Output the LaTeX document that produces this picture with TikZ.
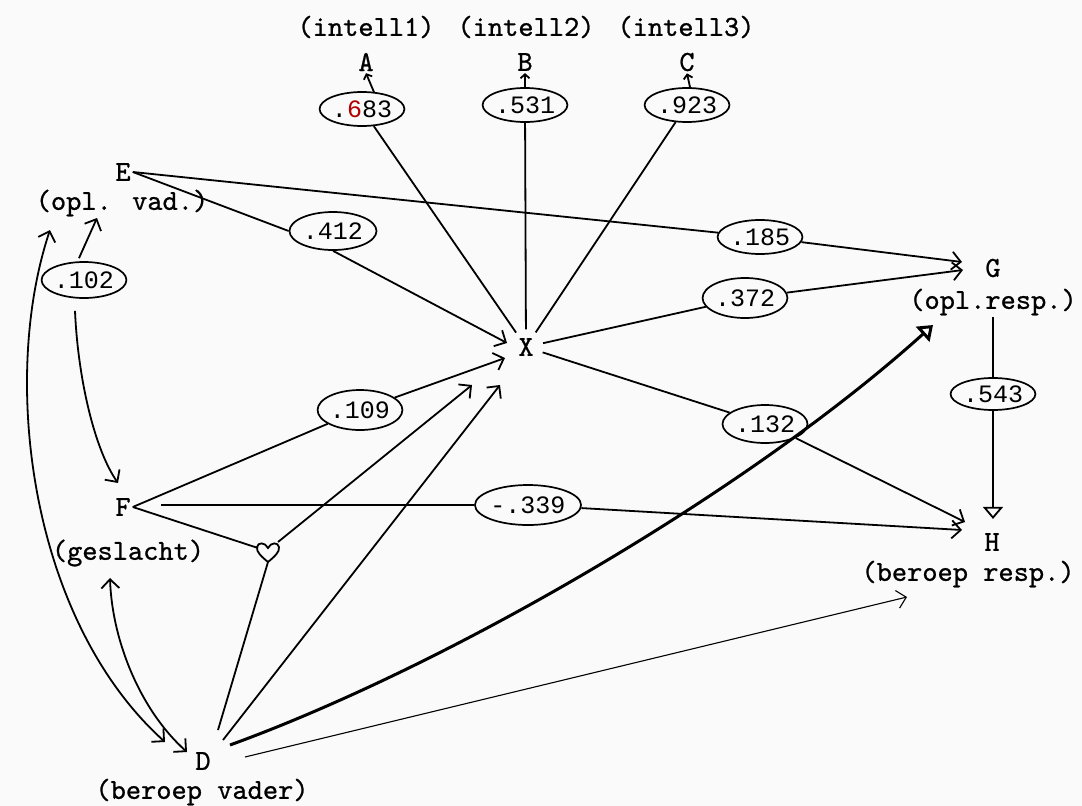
\documentclass[tikz,border=0pt]{standalone}
\usepackage{fontspec}
\newfontfamily\ovalfont{Liberation Mono}
\newfontfamily\typew{lmmono10-regular.otf}[FakeBold=0.8]
\usetikzlibrary{shapes.geometric,arrows.meta,calc}
\begin{document}
\begin{tikzpicture}[x=1pt,y=-1pt,
 lab/.style={font=\fontsize{29}{32}\selectfont\typew, inner sep=2pt},
 oval/.style={ellipse, draw, line width=1.7pt, inner sep=0pt, minimum width=82pt, minimum height=34pt, font=\fontsize{25}{28}\selectfont\ovalfont},
 conn/.style={line width=1.8pt},
 barb/.style={-{Straight Barb[length=9pt,width=18pt]}},
 sbarb/.style={-{Straight Barb[length=4pt,width=9pt]}},
 dbarb/.style={{Straight Barb[length=9pt,width=18pt]}-{Straight Barb[length=9pt,width=18pt]}},
 tri/.style={-{Triangle[open,length=12pt,width=20pt]}},
]
\fill[black!2] (0,0) rectangle (1082,806);
\useasboundingbox (0,0) rectangle (1082,806);

% labels
\node[lab] (iA) at (366,27) {(intell1)};
\node[lab] (iB) at (526,27) {(intell2)};
\node[lab] (iC) at (686,27) {(intell3)};
\node[lab] (A) at (366,62) {A};
\node[lab] (B) at (525,62) {B};
\node[lab] (C) at (687,62) {C};
\node[lab] (E) at (123,172) {E};
\node[lab] (lE) at (122,203) {(opl. vad.)};
\node[lab] (G) at (993,268) {G};
\node[lab] (lG) at (993,302) {(opl.resp.)};
\node[lab, circle, inner sep=4pt] (X) at (526,347) {X};
\node[lab] (F) at (123,507) {F};
\node[lab] (lF) at (128,553) {(geslacht)};
\node[lab] (H) at (992,542) {H};
\node[lab] (lH) at (968,574) {(beroep resp.)};
\node[lab] (D) at (203,761) {D};
\node[lab, inner sep=0pt] (lD) at (202,792) {(beroep vader)};
\coordinate (hj) at (268,552);

% ovals
\node[oval, minimum width=74pt] (o683) at (362,109) {.{\color{red!70!black}6}83};
\node[oval, minimum width=84pt] (o531) at (525,105) {.531};
\node[oval, minimum width=80pt] (o923) at (687,105) {.923};
\node[oval, minimum width=87pt, minimum height=38pt] (o412) at (333,231) {.412};
\node[oval, minimum width=78pt, minimum height=36pt] (o102) at (84,280) {.102};
\node[oval, minimum width=82pt] (o185) at (760,237) {.185};
\node[oval, minimum width=78pt, minimum height=40pt] (o372) at (745,298) {.372};
\node[oval, minimum width=78pt, minimum height=32pt] (o543) at (993,394) {.543};
\node[oval, minimum width=76pt, minimum height=40pt] (o109) at (360,410) {.109};
\node[oval, minimum width=85pt, minimum height=38pt] (o132) at (765,424) {.132};
\node[oval, minimum width=90pt, minimum height=40pt] (o339) at (528,505) {-.339};

% X to intelligence indicators
\draw[conn] (X) -- (o683);
\draw[conn,sbarb] ($(o683.north)+(12,1)$) -- (A.south);
\draw[conn] (X) -- (o531);
\draw[conn,sbarb] (o531.north) -- (B.south);
\draw[conn] (X) -- (o923);
\draw[conn,sbarb] ($(o923.north)+(3,0)$) -- (C.south);

% E paths
\draw[conn] (E.east) -- (o412.west);
\draw[conn,barb] (o412.south) -- ($(X)+(-19,-4)$);
\draw[conn] (E.east) -- (o185);
\draw[conn,barb] (o185) -- ($(G)+(-31,-6)$);

% X to G and H
\draw[conn] (X) -- (o372);
\draw[conn,barb] (o372) -- ($(G)+(-30,2)$);
\draw[conn] (X) -- (o132);
\draw[conn,barb] (o132.south east) -- ($(H)+(-27,-20)$);

% G to H
\draw[conn] (lG.south) -- (o543.north);
\draw[conn,tri] (o543.south) -- ($(H.north)+(1,-12)$);

% F paths
\draw[conn] (F.east) -- (o109);
\draw[conn,barb] (o109) -- ($(X)+(-21,11)$);
\draw[conn] ($(F.east)+(28,-2)$) -- (o339);
\draw[conn,barb] (o339) -- ($(H)+(-30,-12)$);
\draw[conn] (F.east) -- ($(hj)+(-10,-4)$);

% interaction junction
\draw[line width=1.8pt, shift={(hj)}] (0,10) .. controls (-6,5) and (-12,0) .. (-11,-5)
  .. controls (-10,-10) and (-3,-10) .. (0,-4)
  .. controls (3,-10) and (10,-10) .. (11,-5)
  .. controls (12,0) and (6,5) .. (0,10);
\draw[conn,barb] ($(hj)+(10,-10)$) -- ($(X)+(-54,38)$);
\draw[conn] ($(D)+(15,-31)$) -- ($(hj)+(0,10)$);

% D paths
\draw[conn,barb] ($(D)+(20,-21)$) -- ($(X)+(-26,38)$);
\draw[line width=3pt, -{Triangle[open,length=14pt,width=20pt]}] ($(D)+(27,-16)$) .. controls (450,665) and (750,490) .. ($(lG)+(-60,23)$);
\draw[line width=1.1pt, barb] ($(D)+(42,-4)$) -- ($(lH)+(-61,23)$);

% correlations
\draw[conn,dbarb] ($(lF)+(-18,25)$) .. controls (112,640) and (140,710) .. ($(D)+(-16,-9)$);
\draw[conn,dbarb] ($(lE)+(-72,27)$) .. controls (0,380) and (30,620) .. ($(D)+(-38,-19)$);
\draw[conn,barb] ($(o102.north)+(-5,-3)$) -- ($(lE)+(-25,15)$);
\draw[conn,barb] ($(o102.south)+(-9,12)$) .. controls (78,380) and (95,450) .. ($(F)+(-5,-24)$);
\end{tikzpicture}
\end{document}
